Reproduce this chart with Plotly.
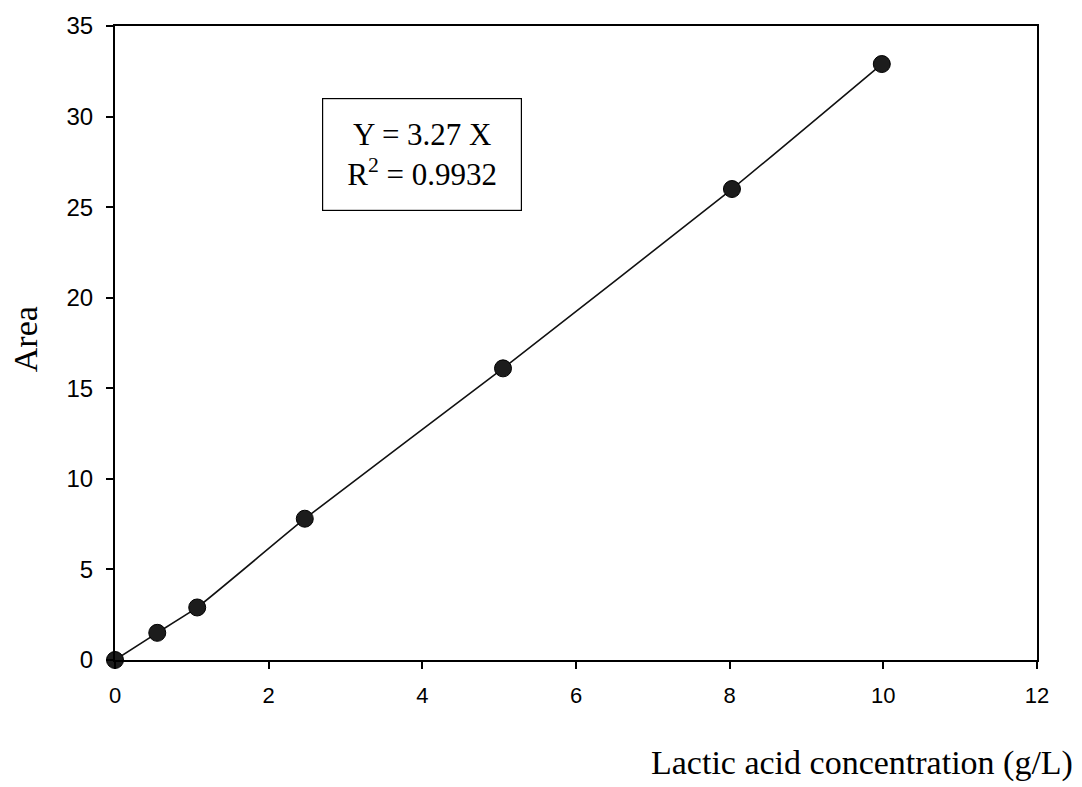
import plotly.graph_objects as go

conc = [0, 0.55, 1.07, 2.47, 5.05, 8.03, 9.98]
area = [0, 1.5, 2.9, 7.8, 16.1, 26.0, 32.9]
x_ticks = [0, 2, 4, 6, 8, 10, 12]
y_ticks = [0, 5, 10, 15, 20, 25, 30, 35]
eq_text = "Y = 3.27 X<br>R<sup>2</sup> = 0.9932"
x_title = "Lactic acid concentration (g/L)"
y_title = "Area"

fig = go.Figure()
fig.add_trace(go.Scatter(
    x=conc, y=area, mode="lines+markers",
    line=dict(color="#111111", width=1.6, shape="spline", smoothing=0.4),
    marker=dict(size=17, color="#1c1c1c", line=dict(color="#000000", width=1)),
    showlegend=False, cliponaxis=False,
))

axis_common = dict(
    showgrid=False, zeroline=False, showline=True, linecolor="#000000",
    linewidth=2, mirror=True, ticks="outside", ticklen=7, tickwidth=1.5,
    tickcolor="#000000",
)
fig.update_xaxes(range=[0, 12], tickvals=x_ticks, ticklabelstandoff=8,
                 tickfont=dict(family="Liberation Sans", size=22, color="#000000"),
                 **axis_common)
fig.update_yaxes(range=[0, 35], tickvals=y_ticks, ticklabelstandoff=8,
                 tickfont=dict(family="Liberation Sans", size=24, color="#000000"),
                 **axis_common)

serif = "Liberation Serif"
fig.add_annotation(
    text=eq_text, xref="paper", yref="paper", x=0.333, y=0.798,
    xanchor="center", yanchor="middle", showarrow=False, align="center",
    font=dict(family=serif, size=31, color="#000000"),
    bordercolor="#000000", borderwidth=1.2, borderpad=4,
    width=190, height=103, bgcolor="rgba(255,255,255,0)",
)
fig.add_annotation(
    text=y_title, xref="paper", yref="paper", x=-0.0976, y=0.506,
    xanchor="center", yanchor="middle", showarrow=False, textangle=-90,
    font=dict(family=serif, size=34, color="#000000"),
)
fig.add_annotation(
    text=x_title, xref="paper", yref="paper", x=1.041, y=-0.162,
    xanchor="right", yanchor="middle", showarrow=False,
    font=dict(family=serif, size=34, color="#000000"),
)

fig.update_layout(
    width=1082, height=787,
    margin=dict(l=115, r=45, t=17, b=127),
    paper_bgcolor="white", plot_bgcolor="white",
)

fig.write_html("out.html")
